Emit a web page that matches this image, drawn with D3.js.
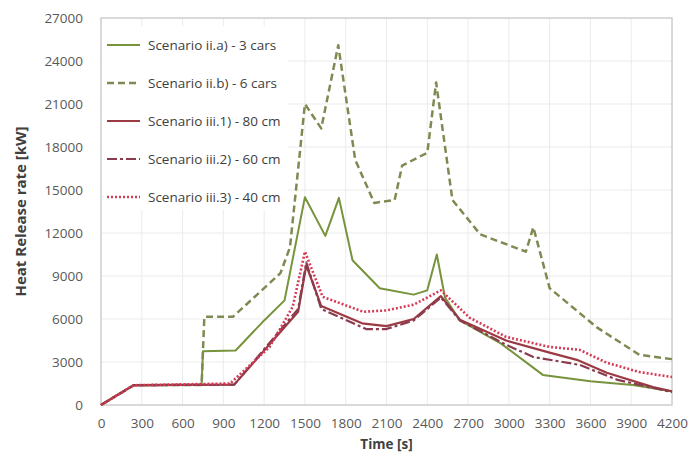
<!DOCTYPE html>
<html>
<head>
<meta charset="utf-8">
<script src="https://cdn.jsdelivr.net/npm/d3@7"></script>
<style>
  body { margin: 0; background: #fff; }
  svg text { font-family: "Open Sans", "DejaVu Sans", sans-serif; }
</style>
</head>
<body>
<div id="chart"></div>
<script>
// Heat release rate curves
const x_ticks = d3.range(0, 4201, 300);
const y_ticks = d3.range(0, 27001, 3000);

const time_a = [0, 240, 740, 750, 990, 1200, 1350, 1500, 1650, 1750, 1850, 2050, 2300, 2400, 2470, 2530, 2640, 2940, 3250, 3600, 3910, 4200];
const hrr_a = [0, 1380, 1400, 3750, 3800, 5900, 7300, 14500, 11800, 14450, 10100, 8150, 7700, 8000, 10500, 7500, 5900, 4300, 2100, 1650, 1400, 950];

const time_b = [0, 240, 740, 760, 970, 1320, 1390, 1500, 1620, 1745, 1870, 2010, 2160, 2215, 2400, 2465, 2585, 2790, 3125, 3180, 3300, 3650, 3960, 4200];
const hrr_b = [0, 1380, 1400, 6150, 6150, 9200, 11000, 21000, 19300, 25100, 17100, 14100, 14300, 16700, 17600, 22500, 14300, 11900, 10700, 12400, 8150, 5400, 3500, 3200];

const time_c1 = [0, 240, 980, 1450, 1510, 1620, 1920, 2100, 2300, 2500, 2640, 2980, 3300, 3500, 3720, 4060, 4200];
const hrr_c1 = [0, 1380, 1420, 6500, 9750, 6900, 5700, 5500, 6000, 7600, 5950, 4500, 3650, 3150, 2250, 1250, 950];

const time_c2 = [0, 240, 980, 1450, 1510, 1620, 1950, 2100, 2300, 2500, 2640, 2980, 3180, 3520, 3800, 4200];
const hrr_c2 = [0, 1380, 1420, 6700, 9950, 6700, 5300, 5300, 5900, 7500, 5900, 4200, 3350, 2800, 1750, 900];

const time_c3 = [0, 240, 950, 1240, 1410, 1500, 1630, 1930, 2100, 2300, 2500, 2710, 2980, 3300, 3520, 3720, 3960, 4200];
const hrr_c3 = [0, 1380, 1500, 4050, 6850, 10700, 7550, 6500, 6600, 7000, 8000, 6100, 4750, 4050, 3850, 2950, 2300, 1950];

const series_names = ["Scenario ii.a) - 3 cars", "Scenario ii.b) - 6 cars", "Scenario iii.1) - 80 cm", "Scenario iii.2) - 60 cm", "Scenario iii.3) - 40 cm"];
const series_times = [time_a, time_b, time_c1, time_c2, time_c3];
const series_values = [hrr_a, hrr_b, hrr_c1, hrr_c2, hrr_c3];
const series_colors = ["#77933c", "#7d8b52", "#9b3a42", "#8a3b4e", "#d63a55"];
const series_dash = [null, "7,4", null, "10,3,3,3", "2,2"];
const series_width = [2, 2.5, 2.2, 2.2, 2.6];

const width = 689;
const height = 463;
const margin = { top: 18, right: 17, bottom: 58, left: 101 };
const inner_width = width - margin.left - margin.right;
const inner_height = height - margin.top - margin.bottom;

const svg = d3.select("#chart").append("svg")
    .attr("width", width)
    .attr("height", height);

const g = svg.append("g")
    .attr("transform", `translate(${margin.left},${margin.top})`);

const x_scale = d3.scaleLinear().domain([0, 4200]).range([0, inner_width]);
const y_scale = d3.scaleLinear().domain([0, 27000]).range([inner_height, 0]);

// grid
g.append("g")
    .selectAll("line")
    .data(x_ticks)
    .join("line")
    .attr("x1", d => x_scale(d)).attr("x2", d => x_scale(d))
    .attr("y1", 0).attr("y2", inner_height)
    .attr("stroke", "#ebebeb");

g.append("g")
    .selectAll("line")
    .data(y_ticks)
    .join("line")
    .attr("x1", 0).attr("x2", inner_width)
    .attr("y1", d => y_scale(d)).attr("y2", d => y_scale(d))
    .attr("stroke", "#ebebeb");

g.append("rect")
    .attr("width", inner_width)
    .attr("height", inner_height)
    .attr("fill", "none")
    .attr("stroke", "#d0d0d0")
    .attr("stroke-width", 1.5);

// axes (labels only)
const x_axis_g = g.append("g")
    .attr("transform", `translate(0,${inner_height})`)
    .call(d3.axisBottom(x_scale).tickValues(x_ticks).tickSize(0).tickPadding(13).tickFormat(d3.format("d")));
x_axis_g.select(".domain").remove();
x_axis_g.selectAll("text")
    .style("font-size", "13.5px")
    .style("fill", "#595959")
    .style("font-family", "'Open Sans', sans-serif");

const y_axis_g = g.append("g")
    .call(d3.axisLeft(y_scale).tickValues(y_ticks).tickSize(0).tickPadding(18).tickFormat(d3.format("d")));
y_axis_g.select(".domain").remove();
y_axis_g.selectAll("text")
    .style("font-size", "13.5px")
    .style("fill", "#595959")
    .style("font-family", "'Open Sans', sans-serif");

// axis titles
svg.append("text")
    .attr("x", margin.left + inner_width / 2)
    .attr("y", 449)
    .attr("text-anchor", "middle")
    .style("font-size", "13.5px")
    .style("font-weight", "bold")
    .style("fill", "#404040")
    .text("Time [s]");

svg.append("text")
    .attr("transform", `translate(26,${margin.top + inner_height / 2}) rotate(-90)`)
    .attr("text-anchor", "middle")
    .style("font-size", "15px")
    .style("font-weight", "bold")
    .style("fill", "#404040")
    .text("Heat Release rate [kW]");

// lines
const line = d3.line()
    .x(d => x_scale(d[0]))
    .y(d => y_scale(d[1]));

series_names.forEach((name, i) => {
    const pts = series_times[i].map((t, j) => [t, series_values[i][j]]);
    g.append("path")
        .datum(pts)
        .attr("d", line)
        .attr("fill", "none")
        .attr("stroke", series_colors[i])
        .attr("stroke-width", series_width[i])
        .attr("stroke-dasharray", series_dash[i])
        .attr("stroke-linejoin", "round");
});

// legend
const legend = svg.append("g")
    .attr("transform", "translate(102,26)");

legend.append("rect")
    .attr("width", 186)
    .attr("height", 184)
    .attr("fill", "#fff")
    .attr("opacity", 0.92);

series_names.forEach((name, i) => {
    const ly = 19 + i * 38;
    legend.append("line")
        .attr("x1", 5).attr("x2", 38)
        .attr("y1", ly).attr("y2", ly)
        .attr("stroke", series_colors[i])
        .attr("stroke-width", series_width[i])
        .attr("stroke-dasharray", series_dash[i]);
    legend.append("text")
        .attr("x", 46)
        .attr("y", ly)
        .attr("dy", "0.35em")
        .style("font-size", "13.5px")
        .style("fill", "#404040")
        .text(name);
});
</script>
</body>
</html>
